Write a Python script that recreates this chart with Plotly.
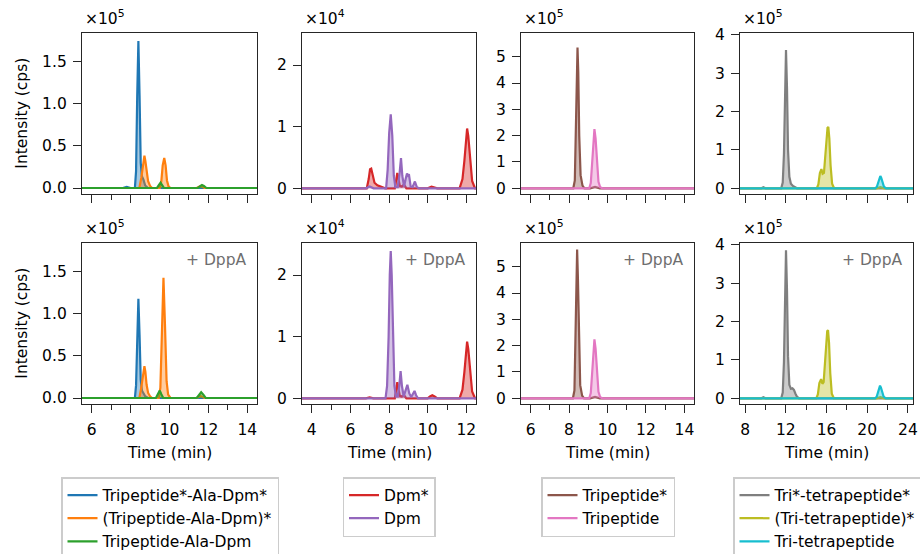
import plotly.graph_objects as go

# ---------------- data (time in min, intensity in cps) ----------------
# Column 1, row 1 (no DppA)
T_C1R1_A = [5.5, 7.6, 7.8, 8.0, 8.22, 8.28, 8.34, 8.40, 8.46, 8.52, 8.58, 8.66, 8.75, 8.9, 14.5]
I_C1R1_A = [0, 0, 1200, 0, 0, 20000, 110000, 175000, 110000, 30000, 14000, 10000, 3000, 0, 0]
T_C1R1_B = [5.5, 8.45, 8.55, 8.62, 8.67, 8.71, 8.76, 8.82, 8.9, 9.0, 9.1, 9.5, 9.58, 9.65, 9.73, 9.80, 9.87, 9.95, 10.05, 11.4, 11.6, 11.8, 14.5]
I_C1R1_B = [0, 0, 12000, 26000, 34000, 38500, 32000, 18000, 8000, 2500, 0, 0, 8000, 27000, 35700, 27000, 9000, 2000, 0, 0, 2500, 0, 0]
T_C1R1_C = [5.5, 9.35, 9.45, 9.54, 9.62, 9.72, 11.45, 11.57, 11.67, 11.77, 11.9, 14.5]
I_C1R1_C = [0, 0, 3500, 6300, 3500, 0, 0, 2500, 3600, 2500, 0, 0]
# Column 1, row 2 (+ DppA)
T_C1R2_A = [5.5, 8.22, 8.28, 8.34, 8.40, 8.46, 8.52, 8.58, 8.66, 8.75, 8.9, 14.5]
I_C1R2_A = [0, 0, 15000, 75000, 118000, 75000, 22000, 9000, 6000, 2000, 0, 0]
T_C1R2_B = [5.5, 8.45, 8.53, 8.6, 8.66, 8.71, 8.76, 8.82, 8.9, 9.0, 9.1, 9.45, 9.53, 9.61, 9.69, 9.77, 9.85, 9.93, 10.05, 11.4, 11.6, 11.8, 14.5]
I_C1R2_B = [0, 0, 10000, 22000, 33000, 37800, 31000, 16000, 6000, 2000, 0, 0, 12000, 85000, 143000, 85000, 20000, 4000, 0, 0, 2500, 0, 0]
T_C1R2_C = [5.5, 9.3, 9.4, 9.5, 9.58, 9.68, 11.4, 11.52, 11.63, 11.74, 11.86, 14.5]
I_C1R2_C = [0, 0, 4500, 8800, 4500, 0, 0, 4000, 6800, 4000, 0, 0]

# Column 2, row 1
T_C2R1_A = [3.5, 6.85, 6.95, 7.02, 7.08, 7.15, 7.25, 7.4, 7.6, 7.8, 8.3, 8.37, 8.43, 8.49, 8.56, 8.66, 8.78, 8.9, 10.0, 10.2, 10.35, 10.5, 11.65, 11.8, 11.9, 11.98, 12.04, 12.1, 12.2, 12.3, 12.45, 12.5]
I_C2R1_A = [0, 0, 1500, 3100, 3200, 2000, 900, 500, 200, 0, 0, 1800, 2500, 1500, 400, 300, 600, 0, 0, 250, 150, 0, 0, 1500, 4500, 8500, 9700, 8500, 4500, 1200, 0, 0]
T_C2R1_B = [3.5, 6.8, 7.0, 7.2, 7.85, 7.93, 8.01, 8.09, 8.17, 8.25, 8.33, 8.45, 8.55, 8.62, 8.69, 8.78, 8.86, 8.93, 8.98, 9.03, 9.12, 9.22, 9.34, 9.44, 9.55, 12.5]
I_C2R1_B = [0, 0, 300, 0, 0, 3000, 9000, 12000, 8500, 2000, 200, 200, 2500, 4900, 2000, 300, 1500, 2400, 2100, 2300, 300, 200, 1100, 200, 0, 0]
# Column 2, row 2
T_C2R2_A = [3.5, 6.8, 7.0, 7.2, 8.3, 8.37, 8.43, 8.49, 8.56, 8.66, 8.78, 8.9, 10.0, 10.12, 10.24, 10.36, 10.5, 11.65, 11.8, 11.9, 11.98, 12.04, 12.1, 12.2, 12.3, 12.45, 12.5]
I_C2R2_A = [0, 0, 150, 0, 0, 1800, 2600, 1500, 400, 300, 500, 0, 0, 300, 500, 300, 0, 0, 1400, 4300, 8000, 9200, 8000, 4300, 1100, 0, 0]
T_C2R2_B = [3.5, 7.82, 7.9, 7.98, 8.04, 8.09, 8.14, 8.2, 8.28, 8.36, 8.45, 8.53, 8.6, 8.67, 8.76, 8.85, 8.95, 9.05, 9.15, 9.25, 9.32, 9.4, 9.5, 12.5]
I_C2R2_B = [0, 0, 2000, 10000, 20000, 23900, 20000, 10000, 2000, 300, 300, 2000, 4400, 2000, 300, 1200, 2200, 800, 200, 800, 1200, 500, 0, 0]

# Column 3, row 1
T_C3R1_A = [5.5, 8.22, 8.30, 8.36, 8.40, 8.44, 8.48, 8.53, 8.6, 8.7, 8.8, 9.1, 9.35, 9.6, 14.5]
I_C3R1_A = [0, 0, 30000, 250000, 450000, 535000, 440000, 200000, 50000, 10000, 0, 0, 5000, 0, 0]
T_C3R1_B = [5.5, 9.05, 9.13, 9.2, 9.26, 9.32, 9.38, 9.45, 9.53, 9.62, 9.75, 14.5]
I_C3R1_B = [0, 0, 20000, 90000, 185000, 225000, 190000, 100000, 25000, 4000, 0, 0]
# Column 3, row 2
T_C3R2_A = [5.5, 8.2, 8.28, 8.34, 8.38, 8.42, 8.46, 8.51, 8.58, 8.68, 8.78, 9.1, 9.35, 9.6, 14.5]
I_C3R2_A = [0, 0, 30000, 260000, 470000, 565000, 460000, 210000, 50000, 10000, 0, 0, 5000, 0, 0]
T_C3R2_B = [5.5, 9.05, 9.13, 9.2, 9.26, 9.32, 9.38, 9.45, 9.53, 9.62, 9.75, 14.5]
I_C3R2_B = [0, 0, 20000, 90000, 184000, 224000, 189000, 100000, 25000, 4000, 0, 0]

# Column 4, row 1
T_C4R1_A = [7.5, 9.6, 9.8, 10.0, 11.55, 11.7, 11.82, 11.92, 12.02, 12.12, 12.22, 12.35, 12.5, 12.7, 12.9, 13.1, 24.5]
I_C4R1_A = [0, 0, 2500, 0, 0, 15000, 90000, 260000, 361000, 260000, 100000, 30000, 12000, 6000, 2000, 0, 0]
T_C4R1_B = [7.5, 15.05, 15.2, 15.35, 15.5, 15.62, 15.75, 15.88, 16.0, 16.1, 16.18, 16.28, 16.4, 16.55, 16.75, 20.9, 21.3, 21.7, 24.5]
I_C4R1_B = [0, 0, 10000, 40000, 50000, 38000, 40000, 80000, 135000, 158000, 160000, 130000, 60000, 12000, 0, 0, 3000, 0, 0]
T_C4R1_C = [7.5, 20.8, 20.95, 21.1, 21.2, 21.29, 21.38, 21.5, 21.65, 21.85, 24.5]
I_C4R1_C = [0, 0, 4000, 15000, 27000, 32000, 27000, 14000, 4000, 0, 0]
# Column 4, row 2
T_C4R2_A = [7.5, 9.6, 9.8, 10.0, 11.55, 11.7, 11.82, 11.92, 12.02, 12.12, 12.22, 12.35, 12.5, 12.65, 12.8, 12.95, 13.1, 13.3, 24.5]
I_C4R2_A = [0, 0, 2500, 0, 0, 15000, 95000, 280000, 386000, 280000, 110000, 35000, 25000, 26000, 22000, 12000, 4000, 0, 0]
T_C4R2_B = [7.5, 15.0, 15.15, 15.3, 15.47, 15.6, 15.72, 15.85, 15.97, 16.07, 16.15, 16.25, 16.37, 16.52, 16.72, 20.9, 21.3, 21.7, 24.5]
I_C4R2_B = [0, 0, 10000, 40000, 50000, 38000, 42000, 90000, 150000, 175000, 178000, 145000, 65000, 12000, 0, 0, 3000, 0, 0]
T_C4R2_C = [7.5, 20.78, 20.93, 21.07, 21.17, 21.26, 21.35, 21.47, 21.62, 21.82, 24.5]
I_C4R2_C = [0, 0, 4000, 16000, 28000, 33000, 28000, 15000, 4000, 0, 0]

SERIES_NAMES = [
    ["Tripeptide*-Ala-Dpm*", "(Tripeptide-Ala-Dpm)*", "Tripeptide-Ala-Dpm"],
    ["Dpm*", "Dpm"],
    ["Tripeptide*", "Tripeptide"],
    ["Tri*-tetrapeptide*", "(Tri-tetrapeptide)*", "Tri-tetrapeptide"],
]
DATA = [  # DATA[row][col] -> list of (t, intensity) per series
    [
        [(T_C1R1_A, I_C1R1_A), (T_C1R1_B, I_C1R1_B), (T_C1R1_C, I_C1R1_C)],
        [(T_C2R1_A, I_C2R1_A), (T_C2R1_B, I_C2R1_B)],
        [(T_C3R1_A, I_C3R1_A), (T_C3R1_B, I_C3R1_B)],
        [(T_C4R1_A, I_C4R1_A), (T_C4R1_B, I_C4R1_B), (T_C4R1_C, I_C4R1_C)],
    ],
    [
        [(T_C1R2_A, I_C1R2_A), (T_C1R2_B, I_C1R2_B), (T_C1R2_C, I_C1R2_C)],
        [(T_C2R2_A, I_C2R2_A), (T_C2R2_B, I_C2R2_B)],
        [(T_C3R2_A, I_C3R2_A), (T_C3R2_B, I_C3R2_B)],
        [(T_C4R2_A, I_C4R2_A), (T_C4R2_B, I_C4R2_B), (T_C4R2_C, I_C4R2_C)],
    ],
]

X_TICKS = [[6, 8, 10, 12, 14], [4, 6, 8, 10, 12], [6, 8, 10, 12, 14], [8, 12, 16, 20, 24]]
X_MINOR = [1, 1, 1, 2]
X_RANGE = [[5.5, 14.5], [3.5, 12.5], [5.5, 14.5], [7.5, 24.5]]
Y_TICKS = [[0, 50000, 100000, 150000], [0, 10000, 20000],
           [0, 100000, 200000, 300000, 400000, 500000], [0, 100000, 200000, 300000, 400000]]
Y_TICKTEXT = [["0.0", "0.5", "1.0", "1.5"], ["0", "1", "2"],
              ["0", "1", "2", "3", "4", "5"], ["0", "1", "2", "3", "4"]]
Y_RANGE = [[-7500, 184500], [-970, 25190], [-22800, 590000], [-15700, 405200]]
Y_EXP = ["5", "4", "5", "5"]
ROW_LABEL = ["", "+ DppA"]

# ---------------- style ----------------
COLORS = [["#1f77b4", "#ff7f0e", "#2ca02c"], ["#d62728", "#9467bd"],
          ["#8c564b", "#e377c2"], ["#7f7f7f", "#bcbd22", "#17becf"]]
FONT = "DejaVu Sans"
FS = 15.5
W, H = 920, 554
COL_PX = [(82, 257), (302, 476), (521, 694), (740, 913)]
ROW_PX = [(33, 194.3), (243, 404.3)]
AX = "#262626"


def rgba(hexc, a):
    h = hexc.lstrip("#")
    return "rgba(%d,%d,%d,%.2f)" % (int(h[0:2], 16), int(h[2:4], 16), int(h[4:6], 16), a)


fig = go.Figure()
annotations = []
legend_names = ["legend", "legend2", "legend3", "legend4"]

for r in range(2):
    for c in range(4):
        k = r * 4 + c + 1
        xa = "x" if k == 1 else "x%d" % k
        ya = "y" if k == 1 else "y%d" % k
        for s, (t, v) in enumerate(DATA[r][c]):
            col = COLORS[c][s]
            fig.add_trace(go.Scatter(x=t, y=v, xaxis=xa, yaxis=ya, mode="lines",
                                     line=dict(width=0, color=col), fill="tozeroy",
                                     fillcolor=rgba(col, 0.4), showlegend=False,
                                     hoverinfo="skip"))
            fig.add_trace(go.Scatter(x=t, y=v, xaxis=xa, yaxis=ya, mode="lines",
                                     line=dict(width=2.2, color=col),
                                     name=SERIES_NAMES[c][s],
                                     legend=legend_names[c],
                                     legendgroup="c%d_s%d" % (c, s),
                                     showlegend=(r == 0)))
        x0, x1 = COL_PX[c]
        y0, y1 = ROW_PX[r]
        xdom = [x0 / W, x1 / W]
        ydom = [1 - y1 / H, 1 - y0 / H]
        xkey = "xaxis" if k == 1 else "xaxis%d" % k
        ykey = "yaxis" if k == 1 else "yaxis%d" % k
        fig.layout[xkey] = dict(
            domain=xdom, anchor=ya, range=X_RANGE[c], tickmode="array",
            tickvals=X_TICKS[c], showticklabels=(r == 1), ticks="outside",
            ticklen=8, tickwidth=1.3, tickcolor=AX, showline=True, linecolor=AX,
            linewidth=1.3, mirror=True, showgrid=False, zeroline=False,
            ticklabelstandoff=3,
            tickfont=dict(family=FONT, size=FS, color="#000"),
            minor=dict(dtick=X_MINOR[c], tick0=0, ticks="outside", ticklen=4.5,
                       tickwidth=1.1, tickcolor=AX, showgrid=False),
        )
        fig.layout[ykey] = dict(
            domain=ydom, anchor=xa, range=Y_RANGE[c], tickmode="array",
            tickvals=Y_TICKS[c], ticktext=Y_TICKTEXT[c], ticks="outside",
            ticklen=8, tickwidth=1.3, tickcolor=AX, showline=True, linecolor=AX,
            linewidth=1.3, mirror=True, showgrid=False, zeroline=False,
            ticklabelstandoff=3,
            tickfont=dict(family=FONT, size=FS, color="#000"),
        )
        annotations.append(dict(
            xref="paper", yref="paper", x=xdom[0], y=ydom[1], xanchor="left",
            yanchor="bottom", xshift=1, yshift=3, showarrow=False,
            text="×10<sup>%s</sup>" % Y_EXP[c],
            font=dict(family=FONT, size=15.5, color="#000")))
        if ROW_LABEL[r]:
            annotations.append(dict(
                xref="paper", yref="paper", x=xdom[1], y=ydom[1], xanchor="right",
                yanchor="top", xshift=-8, yshift=-6, showarrow=False,
                text=ROW_LABEL[r], font=dict(family=FONT, size=FS, color="#6e6e6e")))
        if r == 1:
            annotations.append(dict(
                xref="paper", yref="paper", x=(xdom[0] + xdom[1]) / 2, y=1 - 453 / H,
                xanchor="center", yanchor="middle", showarrow=False,
                text="Time (min)", font=dict(family=FONT, size=FS, color="#000")))
    annotations.append(dict(
        xref="paper", yref="paper", x=22 / W, y=1 - (ROW_PX[r][0] + ROW_PX[r][1]) / 2 / H,
        xanchor="center", yanchor="middle", showarrow=False, textangle=-90,
        text="Intensity (cps)", font=dict(family=FONT, size=FS, color="#000")))

LEG_X = [170, 389, 608, 733]
LEG_ANCHOR = ["center", "center", "center", "left"]
for i, name in enumerate(legend_names):
    fig.layout[name] = dict(
        x=LEG_X[i] / W, xanchor=LEG_ANCHOR[i], y=1 - 477 / H, yanchor="top",
        xref="paper", yref="paper",
        bordercolor="#cccccc", borderwidth=1.5, bgcolor="white",
        font=dict(family=FONT, size=FS, color="#000"), itemwidth=30,
        tracegroupgap=0, traceorder="normal")

fig.update_layout(
    width=W, height=H, margin=dict(l=0, r=0, t=0, b=0, autoexpand=False),
    plot_bgcolor="white", paper_bgcolor="white",
    font=dict(family=FONT, size=FS, color="#000"),
    annotations=annotations, hovermode=False,
)
fig.write_html("out.html", config={"displayModeBar": False},
               post_script="document.body.style.margin='0';document.body.style.overflow='hidden';")
